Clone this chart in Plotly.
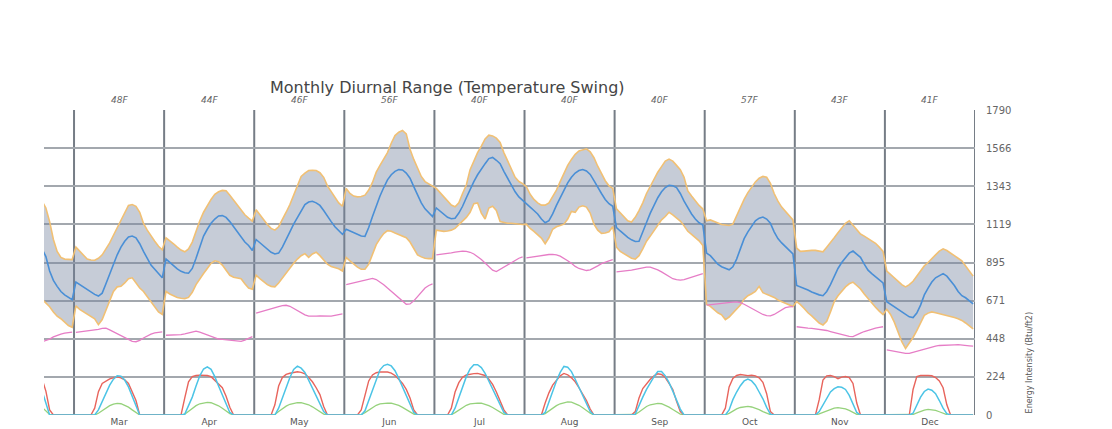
import plotly.graph_objects as go

# ---------------------------------------------------------------------------
# Data: hourly profiles (average day) for each month, energy intensity units.
# February is only partly in view, so it starts at hour 15.
# ---------------------------------------------------------------------------
month_names = ["Feb", "Mar", "Apr", "May", "Jun", "Jul", "Aug", "Sep", "Oct", "Nov", "Dec"]
month_numbers = [2, 3, 4, 5, 6, 7, 8, 9, 10, 11, 12]
feb_first_hour = 15
view_start_hour = 16          # first visible hour of February
swing_labels = ["48F", "44F", "46F", "56F", "40F", "40F", "40F", "57F", "43F", "41F"]   # Mar..Dec
energy_ticks = [0, 224, 448, 671, 895, 1119, 1343, 1566, 1790]

temp_high = [
    1255, 1215, 1135, 1030, 960, 925, 915, 912, 912,  # Feb
    985, 960, 935, 915, 910, 908, 920, 940, 975, 1010, 1055, 1100, 1140, 1190, 1230, 1235, 1225, 1190, 1125, 1085, 1050, 1020, 990, 970,  # Mar
    1040, 1025, 1005, 985, 968, 958, 975, 1015, 1080, 1140, 1190, 1230, 1265, 1295, 1310, 1318, 1316, 1290, 1260, 1230, 1200, 1175, 1155, 1138,  # Apr
    1205, 1175, 1145, 1118, 1095, 1085, 1105, 1145, 1190, 1235, 1290, 1350, 1400, 1420, 1435, 1436, 1435, 1422, 1395, 1345, 1310, 1275, 1245, 1225,  # May
    1330, 1300, 1285, 1280, 1282, 1290, 1320, 1365, 1425, 1465, 1500, 1540, 1595, 1640, 1660, 1670, 1650, 1560, 1500, 1445, 1400, 1370, 1355, 1345,  # Jun
    1330, 1305, 1280, 1255, 1232, 1222, 1245, 1300, 1350, 1440, 1490, 1540, 1578, 1620, 1642, 1638, 1625, 1600, 1540, 1490, 1440, 1395, 1370, 1358,  # Jul
    1340, 1295, 1265, 1245, 1232, 1232, 1245, 1280, 1320, 1370, 1420, 1465, 1500, 1530, 1550, 1558, 1562, 1545, 1510, 1460, 1415, 1375, 1345, 1330,  # Aug
    1210, 1185, 1160, 1140, 1133, 1160, 1200, 1245, 1300, 1345, 1385, 1425, 1458, 1490, 1502, 1490, 1465, 1440, 1395, 1315, 1285, 1255, 1230, 1210,  # Sep
    1140, 1145, 1135, 1125, 1118, 1115, 1112, 1120, 1170, 1225, 1265, 1305, 1340, 1368, 1390, 1400, 1395, 1360, 1300, 1255, 1220, 1195, 1172, 1145,  # Oct
    980, 960, 962, 966, 966, 966, 962, 958, 985, 1010, 1040, 1070, 1095, 1125, 1140, 1115, 1085, 1062, 1050, 1035, 1020, 1008, 985, 960,  # Nov
    845, 825, 800, 782, 765, 752, 765, 785, 815, 850, 875, 895, 915, 940, 962, 975, 965, 948, 935, 920, 905, 875, 845, 815,  # Dec
]

temp_low = [
    680, 660, 635, 605, 580, 565, 545, 525, 515,  # Feb
    640, 620, 605, 595, 580, 565, 530, 560, 615, 675, 725, 752, 755, 775, 800, 805, 775, 745, 725, 695, 660, 630, 605, 590,  # Mar
    725, 710, 700, 690, 685, 683, 690, 720, 765, 800, 830, 860, 890, 905, 900, 880, 850, 820, 808, 805, 800, 770, 745, 738,  # Apr
    820, 800, 780, 765, 755, 752, 775, 805, 835, 860, 890, 915, 935, 947, 925, 945, 955, 935, 910, 885, 872, 865, 858, 845,  # May
    925, 905, 885, 868, 855, 855, 885, 940, 1000, 1035, 1065, 1082, 1078, 1068, 1058, 1050, 1040, 1015, 975, 940, 928, 920, 918, 918,  # Jun
    1085, 1080, 1078, 1080, 1085, 1095, 1115, 1135, 1160, 1190, 1240, 1245, 1185, 1150, 1215, 1225, 1200, 1135, 1128, 1125, 1125, 1122, 1120, 1118,  # Jul
    1120, 1095, 1078, 1060, 1038, 1005, 1040, 1090, 1105, 1112, 1120, 1150, 1195, 1190, 1220, 1228, 1220, 1185, 1120, 1085, 1066, 1068, 1075, 1105,  # Aug
    985, 960, 945, 930, 920, 915, 935, 975, 1020, 1050, 1080, 1110, 1145, 1165, 1190, 1175, 1155, 1138, 1110, 1078, 1060, 1042, 1022, 995,  # Sep
    650, 638, 620, 600, 588, 560, 575, 600, 625, 645, 680, 700, 712, 725, 755, 718, 708, 700, 690, 675, 665, 655, 645, 637,  # Oct
    665, 648, 625, 600, 582, 560, 540, 528, 550, 605, 665, 700, 728, 752, 770, 780, 760, 740, 710, 683, 660, 632, 610, 590,  # Nov
    620, 590, 545, 490, 430, 390, 420, 455, 495, 545, 585, 598, 605, 600, 595, 590, 585, 580, 572, 565, 555, 540, 522, 505,  # Dec
]

temp_mean = [
    975, 930, 845, 790, 755, 725, 705, 690, 677,  # Feb
    780, 765, 750, 735, 720, 708, 698, 715, 770, 830, 885, 940, 985, 1020, 1045, 1050, 1040, 1005, 960, 915, 880, 855, 830, 805,  # Mar
    915, 895, 875, 858, 843, 835, 832, 860, 920, 990, 1050, 1090, 1125, 1150, 1168, 1170, 1160, 1135, 1105, 1075, 1040, 1015, 995, 965,  # Apr
    1030, 1010, 990, 970, 955, 945, 950, 985, 1035, 1075, 1120, 1160, 1200, 1235, 1250, 1254, 1245, 1230, 1200, 1165, 1135, 1105, 1080, 1060,  # May
    1090, 1080, 1070, 1060, 1050, 1048, 1100, 1165, 1230, 1285, 1335, 1380, 1410, 1430, 1440, 1438, 1420, 1390, 1340, 1290, 1245, 1210, 1185, 1165,  # Jun
    1215, 1195, 1175, 1160, 1152, 1155, 1185, 1225, 1275, 1325, 1370, 1410, 1445, 1475, 1505, 1512, 1495, 1475, 1430, 1390, 1350, 1310, 1280, 1258,  # Jul
    1240, 1220, 1200, 1180, 1150, 1128, 1140, 1180, 1230, 1275, 1320, 1362, 1395, 1420, 1435, 1441, 1432, 1412, 1375, 1335, 1300, 1265, 1240, 1225,  # Aug
    1100, 1080, 1060, 1042, 1028, 1018, 1020, 1070, 1130, 1185, 1230, 1275, 1310, 1335, 1348, 1345, 1335, 1300, 1255, 1215, 1180, 1150, 1128, 1115,  # Sep
    950, 935, 910, 885, 870, 860, 852, 870, 915, 975, 1035, 1075, 1110, 1140, 1155, 1162, 1150, 1125, 1075, 1035, 1010, 990, 965, 945,  # Oct
    760, 752, 743, 733, 722, 712, 705, 700, 725, 765, 815, 860, 895, 925, 950, 962, 945, 925, 885, 850, 830, 812, 795, 775,  # Nov
    665, 650, 637, 620, 602, 588, 576, 572, 598, 645, 705, 745, 780, 805, 820, 830, 815, 790, 760, 725, 700, 688, 672, 652,  # Dec
]

dew_point = [
    430, 436, 445, 458, 468, 474, 480, 484, 487,  # Feb
    485, 488, 490, 492, 494, 497, 502, 508, 510, 500, 488, 478, 465, 452, 440, 432, 430, 438, 452, 465, 475, 482, 486, 488,  # Mar
    468, 468, 469, 470, 472, 476, 482, 490, 492, 486, 478, 468, 458, 450, 446, 444, 442, 440, 436, 432, 432, 440, 452, 460,  # Apr
    598, 605, 612, 618, 624, 630, 636, 642, 644, 638, 625, 610, 598, 588, 580, 578, 580, 582, 580, 578, 580, 585, 590, 594,  # May
    765, 770, 775, 780, 785, 792, 798, 802, 795, 782, 765, 745, 725, 705, 685, 665, 650, 652, 670, 695, 720, 745, 760, 770,  # Jun
    940, 942, 945, 948, 952, 956, 960, 962, 960, 955, 945, 930, 912, 892, 870, 850, 842, 855, 870, 885, 898, 910, 920, 928,  # Jul
    922, 926, 930, 933, 937, 940, 942, 943, 940, 932, 920, 905, 890, 872, 860, 852, 848, 852, 862, 875, 888, 898, 905, 912,  # Aug
    840, 842, 844, 846, 850, 855, 860, 865, 868, 868, 862, 852, 840, 825, 810, 800, 795, 792, 795, 802, 810, 818, 825, 830,  # Sep
    645, 648, 650, 652, 655, 658, 660, 662, 664, 660, 650, 638, 625, 612, 600, 590, 583, 582, 590, 605, 620, 630, 635, 636,  # Oct
    518, 514, 512, 510, 508, 506, 504, 500, 496, 490, 484, 478, 472, 466, 462, 460, 468, 480, 490, 498, 505, 510, 514, 518,  # Nov
    382, 378, 372, 368, 364, 362, 362, 368, 374, 382, 390, 396, 400, 404, 408, 410, 410, 412, 412, 413, 412, 410, 406, 404,  # Dec
]

solar_global = [
    210, 140, 30, 0, 0, 0, 0, 0, 0,  # Feb
    0, 0, 0, 0, 0, 40, 137, 185, 200, 212, 218, 224, 218, 206, 185, 140, 85, 0, 0, 0, 0, 0, 0, 0,  # Mar
    0, 0, 0, 0, 0, 100, 195, 225, 232, 234, 235, 232, 225, 205, 180, 160, 110, 45, 0, 0, 0, 0, 0, 0,  # Apr
    0, 0, 0, 0, 0, 60, 170, 220, 238, 245, 250, 254, 250, 242, 220, 195, 160, 120, 50, 0, 0, 0, 0, 0,  # May
    0, 0, 0, 0, 30, 120, 200, 235, 248, 252, 254, 252, 246, 232, 210, 185, 150, 100, 30, 0, 0, 0, 0, 0,  # Jun
    0, 0, 0, 0, 40, 135, 190, 222, 235, 240, 243, 244, 240, 232, 210, 180, 135, 85, 30, 0, 0, 0, 0, 0,  # Jul
    0, 0, 0, 0, 0, 70, 130, 175, 205, 230, 244, 236, 218, 195, 160, 125, 85, 35, 0, 0, 0, 0, 0, 0,  # Aug
    0, 0, 0, 0, 0, 20, 100, 155, 185, 210, 230, 242, 238, 220, 185, 150, 80, 20, 0, 0, 0, 0, 0, 0,  # Sep
    0, 0, 0, 0, 0, 40, 165, 215, 232, 238, 235, 231, 233, 230, 218, 192, 125, 20, 0, 0, 0, 0, 0, 0,  # Oct
    0, 0, 0, 0, 0, 0, 90, 205, 230, 232, 225, 213, 222, 226, 220, 185, 70, 0, 0, 0, 0, 0, 0, 0,  # Nov
    0, 0, 0, 0, 0, 0, 0, 150, 225, 232, 234, 232, 230, 220, 200, 160, 60, 0, 0, 0, 0, 0, 0, 0,  # Dec
]

solar_direct = [
    140, 70, 0, 0, 0, 0, 0, 0, 0,  # Feb
    0, 0, 0, 0, 0, 0, 30, 80, 130, 175, 210, 230, 228, 205, 165, 110, 55, 0, 0, 0, 0, 0, 0, 0,  # Mar
    0, 0, 0, 0, 0, 5, 50, 105, 170, 230, 270, 283, 268, 225, 170, 115, 60, 15, 0, 0, 0, 0, 0, 0,  # Apr
    0, 0, 0, 0, 0, 0, 40, 95, 160, 220, 268, 287, 275, 250, 205, 160, 110, 65, 20, 0, 0, 0, 0, 0,  # May
    0, 0, 0, 0, 0, 25, 85, 150, 215, 265, 290, 297, 288, 260, 215, 165, 115, 65, 15, 0, 0, 0, 0, 0,  # Jun
    0, 0, 0, 0, 0, 40, 100, 165, 225, 270, 295, 295, 278, 245, 200, 150, 105, 60, 15, 0, 0, 0, 0, 0,  # Jul
    0, 0, 0, 0, 0, 15, 80, 145, 200, 250, 285, 280, 255, 210, 165, 115, 70, 20, 0, 0, 0, 0, 0, 0,  # Aug
    0, 0, 0, 0, 0, 5, 60, 105, 150, 190, 225, 255, 255, 230, 190, 140, 90, 35, 0, 0, 0, 0, 0, 0,  # Sep
    0, 0, 0, 0, 0, 0, 30, 90, 135, 172, 200, 211, 200, 175, 135, 95, 45, 5, 0, 0, 0, 0, 0, 0,  # Oct
    0, 0, 0, 0, 0, 0, 20, 60, 100, 135, 155, 166, 163, 150, 115, 70, 15, 0, 0, 0, 0, 0, 0, 0,  # Nov
    0, 0, 0, 0, 0, 0, 0, 10, 55, 105, 138, 152, 145, 125, 85, 40, 8, 0, 0, 0, 0, 0, 0, 0,  # Dec
]

solar_diffuse = [
    45, 25, 3, 0, 0, 0, 0, 0, 0,  # Feb
    0, 0, 0, 0, 0, 0, 10, 25, 42, 55, 64, 68, 66, 58, 46, 30, 14, 0, 0, 0, 0, 0, 0, 0,  # Mar
    0, 0, 0, 0, 0, 5, 22, 40, 55, 66, 72, 74, 72, 65, 54, 40, 24, 8, 0, 0, 0, 0, 0, 0,  # Apr
    0, 0, 0, 0, 0, 3, 20, 38, 52, 63, 70, 73, 72, 68, 60, 48, 34, 18, 5, 0, 0, 0, 0, 0,  # May
    0, 0, 0, 0, 2, 14, 30, 45, 57, 65, 69, 70, 69, 64, 56, 45, 32, 18, 5, 0, 0, 0, 0, 0,  # Jun
    0, 0, 0, 0, 2, 14, 30, 45, 57, 65, 69, 70, 69, 64, 55, 44, 30, 16, 4, 0, 0, 0, 0, 0,  # Jul
    0, 0, 0, 0, 0, 8, 24, 40, 55, 66, 73, 77, 75, 68, 57, 43, 27, 10, 0, 0, 0, 0, 0, 0,  # Aug
    0, 0, 0, 0, 0, 3, 18, 35, 50, 60, 66, 68, 66, 58, 46, 32, 17, 5, 0, 0, 0, 0, 0, 0,  # Sep
    0, 0, 0, 0, 0, 0, 10, 24, 36, 44, 49, 50, 47, 40, 31, 20, 9, 2, 0, 0, 0, 0, 0, 0,  # Oct
    0, 0, 0, 0, 0, 0, 6, 15, 25, 34, 40, 43, 41, 36, 27, 16, 4, 0, 0, 0, 0, 0, 0, 0,  # Nov
    0, 0, 0, 0, 0, 0, 0, 3, 12, 22, 29, 33, 32, 27, 19, 10, 2, 0, 0, 0, 0, 0, 0, 0,  # Dec
]

# ---------------------------------------------------------------------------
# Hour positions along a continuous axis: each month takes 24 units.
# ---------------------------------------------------------------------------
month_hours = []     # (month number, list of hours) per month
for name, num in zip(month_names, month_numbers):
    first = feb_first_hour if name == "Feb" else 0
    month_hours.append((num, list(range(first, 24))))

x_all = [(num - 1) * 24 + h + 0.5 for num, hours in month_hours for h in hours]
for series in (temp_high, temp_low, temp_mean, dew_point, solar_global, solar_direct, solar_diffuse):
    assert len(series) == len(x_all)


def split_by_month(values):
    """Insert gaps between months so each month is its own segment."""
    xs, ys, i = [], [], 0
    for num, hours in month_hours:
        n = len(hours)
        xs += x_all[i:i + n] + [None]
        ys += values[i:i + n] + [None]
        i += n
    return xs, ys


x_start = (month_numbers[0] - 1) * 24 + view_start_hour
x_end = month_numbers[-1] * 24
shown_months = month_names[1:]
shown_numbers = month_numbers[1:]
month_centers = [(n - 1) * 24 + 12 for n in shown_numbers]
month_edges = [(n - 1) * 24 for n in shown_numbers] + [x_end]

ORANGE = "#f1c074"
BLUE = "#4a8fd6"
PINK = "#e67dc6"
RED = "#e8645c"
CYAN = "#4cc4e6"
GREEN = "#96d27c"

fig = go.Figure()

# Temperature swing band
fig.add_trace(go.Scatter(x=x_all, y=temp_low, mode="lines",
                         line=dict(color=ORANGE, width=1.6), hoverinfo="skip"))
fig.add_trace(go.Scatter(x=x_all, y=temp_high, mode="lines", fill="tonexty",
                         fillcolor="rgba(118,134,160,0.42)",
                         line=dict(color=ORANGE, width=1.6), hoverinfo="skip"))
fig.add_trace(go.Scatter(x=x_all, y=temp_mean, mode="lines",
                         line=dict(color=BLUE, width=1.6)))

dx, dy = split_by_month(dew_point)
fig.add_trace(go.Scatter(x=dx, y=dy, mode="lines", connectgaps=False,
                         line=dict(color=PINK, width=1.3)))

# Solar profiles
fig.add_trace(go.Scatter(x=x_all, y=solar_diffuse, mode="lines",
                         line=dict(color=GREEN, width=1.3)))
fig.add_trace(go.Scatter(x=x_all, y=solar_global, mode="lines",
                         line=dict(color=RED, width=1.4)))
fig.add_trace(go.Scatter(x=x_all, y=solar_direct, mode="lines",
                         line=dict(color=CYAN, width=1.5)))

# Month separators
for edge in month_edges:
    fig.add_shape(type="line", xref="x", yref="paper", x0=edge, x1=edge, y0=0, y1=1,
                  line=dict(color="#767d86", width=2), layer="below")

annotations = [
    dict(text="Monthly Diurnal Range (Temperature Swing)", xref="paper", yref="paper",
         x=0.433, y=1, yshift=23, xanchor="center", yanchor="middle", showarrow=False,
         font=dict(family="DejaVu Sans", size=16, color="#454545")),
    dict(text="Energy Intensity (Btu/ft2)", xref="paper", yref="paper",
         x=1.059, y=0, xanchor="center", yanchor="bottom", textangle=-90, showarrow=False,
         font=dict(family="DejaVu Sans", size=8, color="#555555")),
]
for cx, lbl in zip(month_centers, swing_labels):
    annotations.append(dict(text=f"<i>{lbl}</i>", xref="x", yref="paper", x=cx, y=1,
                            yshift=10, xanchor="center", yanchor="middle", showarrow=False,
                            font=dict(family="DejaVu Sans", size=9, color="#666666")))

fig.update_layout(
    width=1112, height=429, autosize=False,
    margin=dict(l=44, r=137, t=110, b=14, pad=0),
    paper_bgcolor="white", plot_bgcolor="white",
    showlegend=False,
    font=dict(family="DejaVu Sans", color="#555555"),
    annotations=annotations,
    xaxis=dict(range=[x_start, x_end], tickmode="array", tickvals=month_centers,
               ticktext=shown_months, showgrid=False, zeroline=False, showline=False,
               ticks="", automargin=False, tickfont=dict(size=9, color="#555555")),
    yaxis=dict(side="right", range=[0, energy_ticks[-1]], tickmode="array",
               tickvals=energy_ticks, ticktext=[str(v) for v in energy_ticks],
               showgrid=True, gridcolor="#a3a8ae", gridwidth=1.6, zeroline=False,
               showline=False, ticks="", ticklabelstandoff=10, automargin=False,
               tickfont=dict(size=10, color="#666666")),
)

fig.write_html("out.html")
